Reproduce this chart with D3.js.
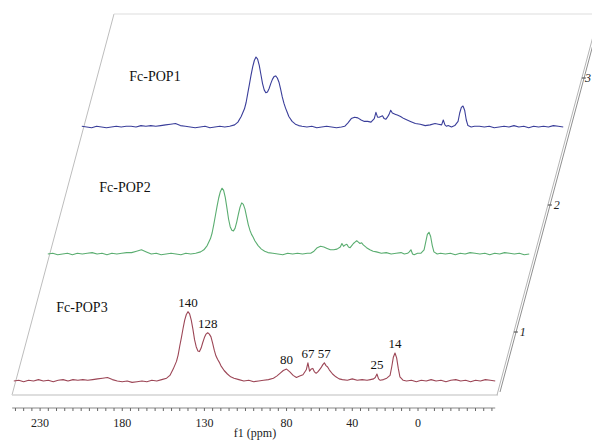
<!DOCTYPE html>
<html><head><meta charset="utf-8">
<script src="https://cdn.jsdelivr.net/npm/d3@7"></script>
<style>body{margin:0;background:#fff}svg{display:block}</style>
</head><body>
<svg id="c" width="592" height="440"></svg>
<script>
// chemical shift grid (ppm), shared by all three spectra
const ppm = [246,243,240,237,234,231,228,225,222,219,216,213,210,207,204,201,198,195,192,189,186,183,180,177,174,171,168,165,162,159,156,153,
 151,149,147,146,145,144,143,142,141,140,139,138,137,136,135,134,133,132,131,130,129,128,127,126,125,124,123,122,121,120,118,116,114,112,
 109,106,103,100,97,94,91,88,
 86,84,82,80,78,76,74,72,70,68,67,66,65,64,63,62,61,60,59,58,57,56,55,54,52,50,48,46,
 43,40,37,34,31,29,27,26,25,24,23,21,19,17,16,15,14,13,12,11,9,7,
 4,1,-2,-5,-8,-11,-14,-17,-20,-23,-26,-29,-32,-35,-38,-41,-44,-47];

const fcPOP3 = [0,1,-1,1,0,2,0,1,-1,1,2,0,2,1,2,1,2,3,4,5,2,0,-1,0,-2,-1,0,-1,1,0,2,4,
 8,17,28,37,50,62,75,87,95,99,96,87,74,59,49,43,42,47,55,62,67,69,67,63,54,44,36,31,27,22,15,10,6,4,
 2,0,1,-1,0,1,2,4,
 7,11,15,17,13,8,5,7,9,16,26,14,17,18,13,11,13,16,19,23,26,22,20,16,10,6,3,2,
 1,3,1,2,1,2,3,5,10,3,1,2,4,8,20,34,40,33,18,6,1,0,
 1,-1,1,0,2,0,1,-1,1,2,0,1,-1,1,0,2,1,0];

const fcPOP2 = [0,1,-1,0,1,-1,1,0,1,2,0,1,-1,1,0,1,2,2,4,6,3,0,1,-1,0,1,0,-1,1,0,1,3,
 6,12,22,30,42,55,68,80,89,94,91,81,66,50,39,34,33,37,46,57,67,73,71,64,53,42,34,28,24,19,12,7,4,2,
 1,0,-1,1,0,1,0,1,
 1,4,9,11,10,8,6,6,7,10,15,11,13,14,10,9,12,15,17,19,17,15,16,13,9,6,4,3,
 1,2,0,1,2,0,1,3,6,0,-1,1,1,6,17,28,31,25,12,3,0,1,
 0,1,-1,1,0,2,1,0,1,-1,1,0,2,1,0,1,-1,0];

const fcPOP1 = [1,0,-1,1,0,-1,0,1,0,1,1,0,2,1,2,1,2,3,4,5,2,1,0,-1,0,1,-1,0,1,0,1,3,
 7,15,26,35,48,61,74,86,95,100,97,88,75,62,53,49,50,55,62,68,72,73,70,64,54,43,34,27,21,15,8,4,2,1,
 0,1,-1,0,1,0,-1,0,
 1,6,12,14,13,10,8,8,7,12,21,14,14,15,16,12,11,14,18,24,20,19,18,17,15,12,10,8,
 5,4,2,3,5,4,3,10,3,1,2,0,2,8,20,28,30,24,10,2,0,1,
 1,0,1,-1,0,1,0,2,0,1,-1,1,0,1,0,2,1,0];

const seriesNames = ["Fc-POP3", "Fc-POP2", "Fc-POP1"];
const seriesColors = ["#9c4656", "#5aad70", "#3a3e9a"];
const axisTickLabels = [230, 180, 130, 80, 40, 0];
const peakLabelsPOP3 = [140, 128, 80, 67, 57, 25, 14];
const stackLabels = ["1", "2", "3"];

// ---------- layout ----------
const svg = d3.select("#c");
const base0 = 381, layerDy = 127, layerDx = 34;
const slope = layerDx / layerDy;
const planeBottom = 395, planeTop = 14, planeLeft = 12, planeRight = 498;
const serif = "Liberation Serif, 'Times New Roman', serif";

const x = d3.scaleLinear().domain([0, 230]).range([418, 40.1]);
const yI = d3.scaleLinear().domain([0, 100]).range([0, 70]);

// plane (skewed frame)
const g0 = svg.append("g");
const topLeftX = planeLeft + slope * (planeBottom - planeTop);
const topRightX = planeRight + slope * (planeBottom - planeTop);
g0.append("line").attr("x1", planeLeft).attr("y1", planeBottom).attr("x2", topLeftX).attr("y2", planeTop)
  .attr("stroke", "#bdbdbd").attr("stroke-width", 1);
g0.append("line").attr("x1", topLeftX).attr("y1", planeTop).attr("x2", topRightX).attr("y2", planeTop)
  .attr("stroke", "#dedede").attr("stroke-width", 1.2);
g0.append("line").attr("x1", planeLeft).attr("y1", planeBottom).attr("x2", planeRight).attr("y2", planeBottom)
  .attr("stroke", "#d3d3d3").attr("stroke-width", 1.6);
[0, 3].forEach((o, i) => {
  g0.append("line").attr("x1", planeRight + o - 1).attr("y1", planeBottom - (i ? 3 : 0))
    .attr("x2", topRightX + o - 1).attr("y2", planeTop - (i ? 3 : 0))
    .attr("stroke", i ? "#8f8f8f" : "#b5b5b5").attr("stroke-width", 1);
});

// stack index labels on right edge
stackLabels.forEach((lab, k) => {
  const yy = 332 - layerDy * k;
  const ex = planeRight + slope * (planeBottom - yy);
  g0.append("line").attr("x1", ex - 1).attr("x2", ex + 3).attr("y1", yy).attr("y2", yy)
    .attr("stroke", "#444").attr("stroke-width", 1);
  g0.append("text").attr("x", Math.min(ex + 5, 585)).attr("y", yy + 4).text(lab)
    .attr("font-family", serif).attr("font-style", "italic")
    .attr("font-size", 12).attr("fill", "#222");
});

// spectra
const series = [fcPOP3, fcPOP2, fcPOP1];
series.forEach((vals, k) => {
  const dx = layerDx * k, base = base0 - layerDy * k;
  const line = d3.line()
    .x((d, i) => x(ppm[i]) + dx)
    .y(d => base - yI(d));
  svg.append("path").datum(vals).attr("d", line)
    .attr("fill", "none").attr("stroke", seriesColors[k]).attr("stroke-width", 1.1)
    .attr("stroke-linejoin", "round");
});

// series names
const namePos = [[82, 312], [125, 192], [155, 81]];
seriesNames.forEach((n, k) => {
  svg.append("text").attr("x", namePos[k][0]).attr("y", namePos[k][1]).text(n)
    .attr("text-anchor", "middle").attr("font-family", serif)
    .attr("font-size", 14).attr("fill", "#111");
});

// peak labels (bottom spectrum)
peakLabelsPOP3.forEach(p => {
  const i = ppm.indexOf(p);
  svg.append("text").attr("x", x(p)).attr("y", base0 - yI(fcPOP3[i]) - 5).text(p)
    .attr("text-anchor", "middle").attr("font-family", serif)
    .attr("font-size", 13).attr("fill", "#111");
});

// bottom ppm axis
const axY = 408;
const ga = svg.append("g");
ga.append("line").attr("x1", x(247)).attr("x2", x(-47)).attr("y1", axY).attr("y2", axY)
  .attr("stroke", "#888").attr("stroke-width", 1);
d3.range(245, -50, -5).forEach(t => {
  ga.append("line").attr("x1", x(t)).attr("x2", x(t)).attr("y1", axY).attr("y2", axY + 3)
    .attr("stroke", "#666").attr("stroke-width", 1);
});
axisTickLabels.forEach(t => {
  ga.append("text").attr("x", x(t)).attr("y", 427).text(t)
    .attr("text-anchor", "middle").attr("font-family", serif)
    .attr("font-size", 12).attr("fill", "#222");
});
ga.append("text").attr("x", 255).attr("y", 437).text("f1 (ppm)")
  .attr("text-anchor", "middle").attr("font-family", serif)
  .attr("font-size", 12).attr("fill", "#222");
</script>
</body></html>
